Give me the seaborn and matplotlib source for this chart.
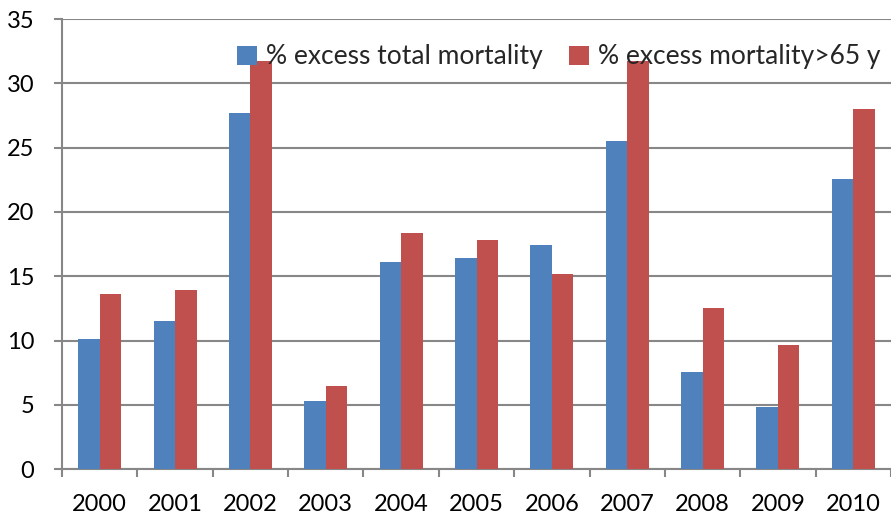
import matplotlib
matplotlib.use("Agg")
import matplotlib.pyplot as plt
import seaborn as sns
import pandas as pd
from matplotlib.patches import Patch

years = ["2000", "2001", "2002", "2003", "2004", "2005", "2006", "2007", "2008", "2009", "2010"]
excess_total = [10.1, 11.5, 27.7, 5.3, 16.1, 16.45, 17.4, 25.5, 7.6, 4.85, 22.55]
excess_over65 = [13.6, 13.9, 31.7, 6.5, 18.35, 17.8, 15.2, 31.7, 12.5, 9.7, 28.0]
series_names = ["% excess total mortality", "% excess mortality>65 y"]
y_ticks = [0, 5, 10, 15, 20, 25, 30, 35]

colors = ["#4F81BD", "#C0504D"]
grid_color = "#878787"

df = pd.DataFrame({
    "year": years * 2,
    "value": excess_total + excess_over65,
    "series": [series_names[0]] * len(years) + [series_names[1]] * len(years),
})

sns.set_style("white")
plt.rcParams["font.family"] = ["Lato", "DejaVu Sans"]

fig = plt.figure(figsize=(8.91, 5.15), dpi=100)
ax = fig.add_axes([62 / 891, 1 - 469.3 / 515, 1 - 62 / 891, (469.3 - 19) / 515])

sns.barplot(data=df, x="year", y="value", hue="series", order=years,
            hue_order=series_names, palette=colors, width=0.57, gap=0,
            saturation=1, linewidth=0, ax=ax, legend=False, zorder=3)

ax.set_xlim(-0.5, len(years) - 0.5)
ax.set_ylim(0, 35)
ax.set_yticks(y_ticks)
ax.set_yticklabels([str(t) for t in y_ticks])
ax.set_xlabel("")
ax.set_ylabel("")

# horizontal gridlines
ax.yaxis.grid(True, color=grid_color, linewidth=1.5, zorder=0)
ax.xaxis.grid(False)
ax.set_axisbelow(True)

for side in ["top", "right"]:
    ax.spines[side].set_visible(False)
for side in ["left", "bottom"]:
    ax.spines[side].set_color(grid_color)
    ax.spines[side].set_linewidth(1.5)

# category boundary ticks on the x axis
ax.set_xticks([i - 0.5 for i in range(len(years) + 1)], minor=True)
ax.tick_params(axis="x", which="minor", length=6, width=1.5, color=grid_color, direction="out")
ax.tick_params(axis="x", which="major", length=0, pad=18, labelsize=17, labelcolor="#000000")
ax.tick_params(axis="y", which="major", length=6, width=1.5, color=grid_color,
               direction="out", pad=14, labelsize=17, labelcolor="#000000")
ax.tick_params(left=True, bottom=True)
ax.tick_params(axis="x", which="minor", bottom=True)

handles = [Patch(facecolor=c, edgecolor="none") for c in colors]
ax.legend(handles, series_names, loc="upper right", bbox_to_anchor=(1.0, 0.967),
          ncol=2, frameon=False, fontsize=19, handlelength=0.75, handleheight=0.75,
          handletextpad=0.35, columnspacing=1.0, borderaxespad=0)

fig.savefig("out.png", dpi=100, facecolor="white")
